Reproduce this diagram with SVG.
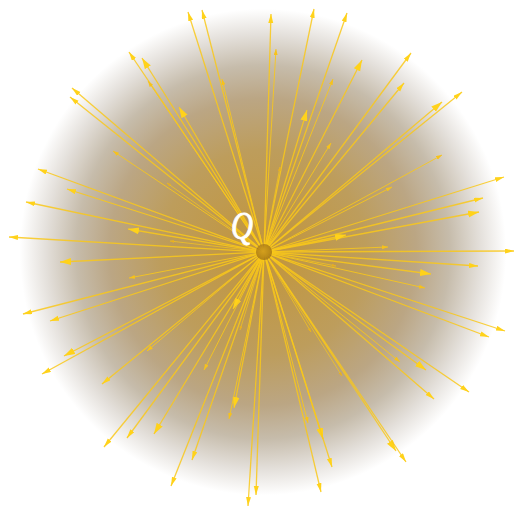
<svg xmlns="http://www.w3.org/2000/svg" width="516" height="510" viewBox="0 0 516 510">
<style>
.r{stroke:#f9c81a;stroke-opacity:0.85;fill:none;stroke-width:1.3}
.l{marker-end:url(#aL)}
.m{marker-end:url(#aM)}
.s{marker-end:url(#aS);stroke-width:1}
.t{marker-end:url(#aT);stroke-width:0.8}
.q{font-family:"Liberation Serif",serif;font-style:italic;font-size:39px;fill:#ffffff;stroke:#ffffff;stroke-width:0.9}
</style>
<defs>
<radialGradient id="bg" cx="263" cy="252" r="256" gradientUnits="userSpaceOnUse">
<stop offset="0" stop-color="#c2953a"/>
<stop offset="0.4" stop-color="#bd9d5c"/>
<stop offset="0.6" stop-color="#bba684"/>
<stop offset="0.73" stop-color="#c6bcab"/>
<stop offset="0.85" stop-color="#e4e0db"/>
<stop offset="0.95" stop-color="#ffffff"/>
</radialGradient>
<radialGradient id="core" cx="0.45" cy="0.45" r="0.6">
<stop offset="0" stop-color="#c08a20"/>
<stop offset="1" stop-color="#8a5c12"/>
</radialGradient>
<marker id="aL" markerUnits="userSpaceOnUse" markerWidth="12" markerHeight="8" refX="11" refY="3.5" orient="auto"><path d="M0,0 L11,3.5 L0,7 z" fill="#ffd21a"/></marker>
<marker id="aM" markerUnits="userSpaceOnUse" markerWidth="10" markerHeight="6" refX="9" refY="2.5" orient="auto"><path d="M0,0 L9,2.5 L0,5 z" fill="#ffd21a"/></marker>
<marker id="aS" markerUnits="userSpaceOnUse" markerWidth="7" markerHeight="5" refX="6" refY="2" orient="auto"><path d="M0,0 L6,2 L0,4 z" fill="#f7c21a"/></marker>
<marker id="aT" markerUnits="userSpaceOnUse" markerWidth="5" markerHeight="4" refX="4" refY="1.5" orient="auto"><path d="M0,0 L4,1.5 L0,3 z" fill="#e8b020"/></marker>
</defs>
<rect width="516" height="510" fill="#ffffff"/>
<circle cx="263" cy="252" r="256" fill="url(#bg)"/>
<g id="rays">
<line class="r l" x1="264" y1="252" x2="142" y2="58"/>
<line class="r l" x1="264" y1="252" x2="179" y2="107"/>
<line class="r l" x1="264" y1="252" x2="307" y2="110"/>
<line class="r l" x1="264" y1="252" x2="362" y2="60"/>
<line class="r l" x1="264" y1="252" x2="442" y2="102"/>
<line class="r l" x1="264" y1="252" x2="479" y2="212"/>
<line class="r l" x1="264" y1="252" x2="431" y2="274"/>
<line class="r l" x1="264" y1="252" x2="426" y2="370"/>
<line class="r l" x1="264" y1="252" x2="233" y2="309"/>
<line class="r l" x1="264" y1="252" x2="234" y2="408"/>
<line class="r l" x1="264" y1="252" x2="154" y2="434"/>
<line class="r l" x1="264" y1="252" x2="323" y2="439"/>
<line class="r l" x1="264" y1="252" x2="396" y2="451"/>
<line class="r l" x1="264" y1="252" x2="128" y2="229"/>
<line class="r l" x1="264" y1="252" x2="64" y2="356"/>
<line class="r l" x1="264" y1="252" x2="60" y2="262"/>
<line class="r l" x1="264" y1="252" x2="346" y2="235"/>
<line class="r m" x1="264" y1="252" x2="188" y2="12"/>
<line class="r m" x1="264" y1="252" x2="202" y2="10"/>
<line class="r m" x1="264" y1="252" x2="129" y2="52"/>
<line class="r m" x1="264" y1="252" x2="72" y2="88"/>
<line class="r m" x1="264" y1="252" x2="70" y2="97"/>
<line class="r m" x1="264" y1="252" x2="38" y2="169"/>
<line class="r m" x1="264" y1="252" x2="67" y2="189"/>
<line class="r m" x1="264" y1="252" x2="26" y2="202"/>
<line class="r m" x1="264" y1="252" x2="9" y2="237"/>
<line class="r m" x1="264" y1="252" x2="271" y2="14"/>
<line class="r m" x1="264" y1="252" x2="314" y2="9"/>
<line class="r m" x1="264" y1="252" x2="347" y2="13"/>
<line class="r m" x1="264" y1="252" x2="411" y2="53"/>
<line class="r m" x1="264" y1="252" x2="404" y2="83"/>
<line class="r m" x1="264" y1="252" x2="462" y2="92"/>
<line class="r m" x1="264" y1="252" x2="504" y2="177"/>
<line class="r m" x1="264" y1="252" x2="483" y2="198"/>
<line class="r m" x1="264" y1="252" x2="514" y2="251"/>
<line class="r m" x1="264" y1="252" x2="478" y2="266"/>
<line class="r m" x1="264" y1="252" x2="505" y2="331"/>
<line class="r m" x1="264" y1="252" x2="489" y2="337"/>
<line class="r m" x1="264" y1="252" x2="469" y2="392"/>
<line class="r m" x1="264" y1="252" x2="434" y2="399"/>
<line class="r m" x1="264" y1="252" x2="406" y2="462"/>
<line class="r m" x1="264" y1="252" x2="332" y2="467"/>
<line class="r m" x1="264" y1="252" x2="321" y2="492"/>
<line class="r m" x1="264" y1="252" x2="23" y2="314"/>
<line class="r m" x1="264" y1="252" x2="50" y2="321"/>
<line class="r m" x1="264" y1="252" x2="42" y2="374"/>
<line class="r m" x1="264" y1="252" x2="102" y2="384"/>
<line class="r m" x1="264" y1="252" x2="104" y2="447"/>
<line class="r m" x1="264" y1="252" x2="127" y2="438"/>
<line class="r m" x1="264" y1="252" x2="192" y2="460"/>
<line class="r m" x1="264" y1="252" x2="171" y2="486"/>
<line class="r m" x1="264" y1="252" x2="248" y2="506"/>
<line class="r m" x1="264" y1="252" x2="256" y2="495"/>
<line class="r s" x1="264" y1="252" x2="222" y2="79"/>
<line class="r s" x1="264" y1="252" x2="148" y2="81"/>
<line class="r s" x1="264" y1="252" x2="113" y2="151"/>
<line class="r s" x1="264" y1="252" x2="276" y2="49"/>
<line class="r s" x1="264" y1="252" x2="333" y2="79"/>
<line class="r s" x1="264" y1="252" x2="331" y2="143"/>
<line class="r s" x1="264" y1="252" x2="442" y2="155"/>
<line class="r s" x1="264" y1="252" x2="392" y2="187"/>
<line class="r s" x1="264" y1="252" x2="388" y2="247"/>
<line class="r s" x1="264" y1="252" x2="129" y2="278"/>
<line class="r s" x1="264" y1="252" x2="147" y2="351"/>
<line class="r s" x1="264" y1="252" x2="204" y2="370"/>
<line class="r s" x1="264" y1="252" x2="229" y2="419"/>
<line class="r s" x1="264" y1="252" x2="425" y2="288"/>
<line class="r s" x1="264" y1="252" x2="400" y2="362"/>
<line class="r s" x1="264" y1="252" x2="308" y2="423"/>
<line class="r t" x1="264" y1="252" x2="167" y2="183"/>
<line class="r t" x1="264" y1="252" x2="170" y2="241"/>
<line class="r t" x1="264" y1="252" x2="280" y2="167"/>
<line class="r t" x1="264" y1="252" x2="240" y2="330"/>
<line class="r t" x1="264" y1="252" x2="336" y2="266"/>
<line class="r t" x1="264" y1="252" x2="311" y2="332"/>
<line class="r t" x1="264" y1="252" x2="342" y2="376"/>
</g>
<g id="charge">
<circle cx="264" cy="252" r="8" fill="url(#core)" opacity="0.65"/>
</g>
<g id="label-q">
<text class="q" x="231" y="239" transform="translate(231 239) scale(0.78 1) translate(-231 -239)">Q</text>
</g>
</svg>
